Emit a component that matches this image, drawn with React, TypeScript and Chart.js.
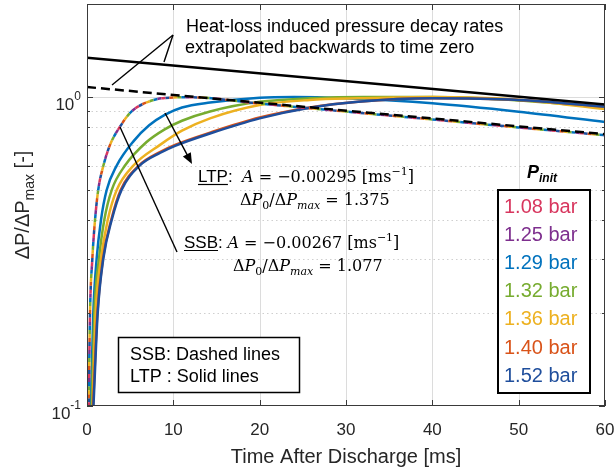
import React, { useEffect, useRef } from "react";
import { Chart, registerables } from "chart.js";

Chart.register(...registerables);

// ---------- data ----------
const legendLabels = ["1.08 bar", "1.25 bar", "1.29 bar", "1.32 bar", "1.36 bar", "1.40 bar", "1.52 bar"];
const seriesColors = ["#D8365E", "#7E2F8E", "#0072BD", "#77AC30", "#EDB120", "#D95319", "#1F4E9C"];
const xTicks = [0, 10, 20, 30, 40, 50, 60];
const yMajorTicks = [0.1, 1];
const yMinorTicks = [0.2, 0.3, 0.4, 0.5, 0.6, 0.7, 0.8, 0.9, 2];

// extrapolated heat-loss decay fits
const fitTime = [0, 60];
const ltpFit = [1.34, 0.945];
const ssbFit = [1.077, 0.758];

// SSB (dashed, all pressures nearly identical)
const ssbTime = [0.2, 0.35, 0.62, 0.93, 1.3, 1.9, 2.67, 3.8, 5.2, 7.1, 9, 12, 20, 30, 40, 50, 60];
const ssbRatio = [0.1, 0.2, 0.3, 0.4, 0.5, 0.6, 0.7, 0.8, 0.9, 0.965, 0.993, 0.998, 0.952, 0.897, 0.846, 0.797, 0.752];

// LTP (solid)
const ltpTime129 = [0.45, 0.73, 1.12, 1.62, 2.28, 3.44, 5.4, 7.2, 9, 11, 14.25, 20, 24, 30, 40, 50, 60];
const ltpRatio129 = [0.1, 0.2, 0.3, 0.4, 0.5, 0.6, 0.72, 0.81, 0.875, 0.925, 0.96, 0.995, 1.0, 0.99, 0.954, 0.896, 0.83];
const ltpTime132 = [0.55, 0.85, 1.39, 2.0, 2.86, 4.4, 6.9, 9, 11, 14.25, 20, 25.8, 32, 40, 50, 60];
const ltpRatio132 = [0.1, 0.2, 0.3, 0.4, 0.5, 0.6, 0.715, 0.786, 0.838, 0.898, 0.965, 0.99, 1.0, 1.0, 0.975, 0.925];
const ltpTime136 = [0.65, 1.0, 1.62, 2.4, 3.44, 5.37, 8.46, 11, 14.25, 20, 25.8, 31.4, 40, 50, 60];
const ltpRatio136 = [0.1, 0.2, 0.3, 0.4, 0.5, 0.6, 0.7, 0.778, 0.853, 0.942, 0.978, 0.99, 1.0, 0.98, 0.914];
const ltpTime140 = [0.7, 1.2, 1.85, 2.8, 3.9, 6.0, 8.5, 10.2, 14.25, 20, 25.8, 31.4, 40, 50, 60];
const ltpRatio140 = [0.1, 0.2, 0.3, 0.4, 0.5, 0.6, 0.665, 0.7, 0.767, 0.858, 0.925, 0.965, 0.99, 0.978, 0.93];
const ltpTime152 = [0.75, 1.24, 1.89, 2.86, 4.0, 6.1, 8.5, 10.2, 14.25, 20, 25.8, 31.4, 40, 50, 60];
const ltpRatio152 = [0.1, 0.2, 0.3, 0.4, 0.5, 0.6, 0.66, 0.695, 0.762, 0.853, 0.923, 0.965, 0.99, 0.978, 0.93];

const SANS = "'Liberation Sans', Arial, sans-serif";
const SERIF = "'DejaVu Serif', 'Liberation Serif', serif";

const pts = (t: number[], v: number[]) => t.map((x, i) => ({ x, y: v[i] }));

type Seg = { t: string; f: string; dy?: number; u?: boolean };

function drawRich(ctx: CanvasRenderingContext2D, x: number, y: number, segs: Seg[], color = "#000") {
  let cx = x;
  ctx.fillStyle = color;
  ctx.textBaseline = "alphabetic";
  ctx.textAlign = "left";
  for (const s of segs) {
    ctx.font = s.f;
    ctx.fillText(s.t, cx, y + (s.dy || 0));
    const w = ctx.measureText(s.t).width;
    if (s.u) {
      ctx.save();
      ctx.strokeStyle = color;
      ctx.lineWidth = 1.2;
      ctx.beginPath();
      ctx.moveTo(cx, y + 2.5);
      ctx.lineTo(cx + w, y + 2.5);
      ctx.stroke();
      ctx.restore();
    }
    cx += w;
  }
  return cx - x;
}

function richWidth(ctx: CanvasRenderingContext2D, segs: Seg[]) {
  let w = 0;
  for (const s of segs) {
    ctx.font = s.f;
    w += ctx.measureText(s.t).width;
  }
  return w;
}

function seg(ctx: CanvasRenderingContext2D, x1: number, y1: number, x2: number, y2: number) {
  ctx.beginPath();
  ctx.moveTo(x1, y1);
  ctx.lineTo(x2, y2);
  ctx.stroke();
}

const decorPlugin = {
  id: "decor",
  beforeDatasetsDraw(chart: any) {
    const { ctx, chartArea: a, scales } = chart;
    const xs = scales.x, ys = scales.y;
    ctx.save();
    ctx.lineWidth = 1;
    ctx.strokeStyle = "#dcdcdc";
    for (const t of xTicks.slice(1, -1)) {
      const px = Math.round(xs.getPixelForValue(t)) + 0.5;
      seg(ctx, px, a.top, px, a.bottom);
    }
    for (const v of yMajorTicks) {
      const py = Math.round(ys.getPixelForValue(v)) + 0.5;
      if (py > a.top + 1 && py < a.bottom - 1) seg(ctx, a.left, py, a.right, py);
    }
    ctx.setLineDash([1.5, 3]);
    ctx.strokeStyle = "#cfcfcf";
    for (const v of yMinorTicks) {
      const py = Math.round(ys.getPixelForValue(v)) + 0.5;
      if (py > a.top + 1 && py < a.bottom - 1) seg(ctx, a.left, py, a.right, py);
    }
    ctx.restore();
  },
  afterDatasetsDraw(chart: any) {
    const { ctx, chartArea: a, scales } = chart;
    const xs = scales.x, ys = scales.y;
    ctx.save();
    // axes box
    ctx.strokeStyle = "#3a3a3a";
    ctx.lineWidth = 1;
    ctx.strokeRect(a.left + 0.5, a.top + 0.5, a.right - a.left - 1, a.bottom - a.top - 1);
    // ticks
    for (const t of xTicks) {
      const px = Math.round(xs.getPixelForValue(t)) + 0.5;
      seg(ctx, px, a.bottom, px, a.bottom - 6);
      seg(ctx, px, a.top, px, a.top + 6);
    }
    for (const v of yMajorTicks) {
      const py = Math.round(ys.getPixelForValue(v)) + 0.5;
      seg(ctx, a.left, py, a.left + 6, py);
      seg(ctx, a.right, py, a.right - 6, py);
    }
    for (const v of yMinorTicks) {
      const py = Math.round(ys.getPixelForValue(v)) + 0.5;
      seg(ctx, a.left, py, a.left + 3, py);
      seg(ctx, a.right, py, a.right - 3, py);
    }
    // x tick labels
    ctx.fillStyle = "#262626";
    ctx.font = `17px ${SANS}`;
    ctx.textAlign = "center";
    ctx.textBaseline = "alphabetic";
    for (const t of xTicks) {
      ctx.fillText(String(t), xs.getPixelForValue(t), 435);
    }
    // y tick labels (10^n)
    for (const v of yMajorTicks) {
      const py = ys.getPixelForValue(v);
      const exp = String(Math.round(Math.log10(v)));
      const segs: Seg[] = [
        { t: "10", f: `17px ${SANS}` },
        { t: exp, f: `12px ${SANS}`, dy: -10 },
      ];
      const w = richWidth(ctx, segs);
      drawRich(ctx, 81 - w, py + 13, segs, "#262626");
    }
    // axis titles
    ctx.fillStyle = "#262626";
    ctx.font = `20px ${SANS}`;
    ctx.textAlign = "center";
    ctx.fillText("Time After Discharge [ms]", (a.left + a.right) / 2, 463);
    ctx.save();
    ctx.translate(28.5, 205);
    ctx.rotate(-Math.PI / 2);
    const ySegs: Seg[] = [
      { t: "ΔP/ΔP", f: `20px ${SANS}` },
      { t: "max", f: `14px ${SANS}`, dy: 5 },
      { t: " [-]", f: `20px ${SANS}` },
    ];
    drawRich(ctx, -richWidth(ctx, ySegs) / 2, 0, ySegs, "#262626");
    ctx.restore();

    // annotation text
    ctx.fillStyle = "#000";
    ctx.textAlign = "left";
    ctx.font = `18px ${SANS}`;
    ctx.fillText("Heat-loss induced pressure decay rates", 186, 31.5);
    ctx.fillText("extrapolated backwards to time zero", 185, 53);

    // annotation lines
    ctx.strokeStyle = "#000";
    ctx.lineWidth = 1.4;
    seg(ctx, 173, 35, 112, 85);
    seg(ctx, 173, 35, 164, 62);
    seg(ctx, 120, 127, 177, 252);
    // arrow
    const ax1 = 165, ay1 = 113, ax2 = 192, ay2 = 164;
    const ang = Math.atan2(ay2 - ay1, ax2 - ax1);
    seg(ctx, ax1, ay1, ax2 - 8 * Math.cos(ang), ay2 - 8 * Math.sin(ang));
    ctx.fillStyle = "#000";
    ctx.beginPath();
    ctx.moveTo(ax2, ay2);
    ctx.lineTo(ax2 - 11 * Math.cos(ang) + 4.5 * Math.sin(ang), ay2 - 11 * Math.sin(ang) - 4.5 * Math.cos(ang));
    ctx.lineTo(ax2 - 11 * Math.cos(ang) - 4.5 * Math.sin(ang), ay2 - 11 * Math.sin(ang) + 4.5 * Math.cos(ang));
    ctx.closePath();
    ctx.fill();

    // formulas
    const sf = `17px ${SANS}`;
    const mi = `italic 16px ${SERIF}`;
    const mr = `16px ${SERIF}`;
    const ms = `11px ${SERIF}`;
    const msi = `italic 11px ${SERIF}`;
    drawRich(ctx, 198, 182, [
      { t: "LTP", f: sf, u: true },
      { t: ":  ", f: sf },
      { t: "A", f: mi },
      { t: " = −0.00295 [ms", f: mr },
      { t: "−1", f: ms, dy: -7 },
      { t: "]", f: mr },
    ]);
    drawRich(ctx, 240, 205, [
      { t: "Δ", f: mr },
      { t: "P", f: mi },
      { t: "0", f: ms, dy: 4 },
      { t: "/Δ", f: mr },
      { t: "P", f: mi },
      { t: "max", f: msi, dy: 4 },
      { t: " = 1.375", f: mr },
    ]);
    drawRich(ctx, 184, 248, [
      { t: "SSB", f: sf, u: true },
      { t: ": ", f: sf },
      { t: "A", f: mi },
      { t: " = −0.00267 [ms", f: mr },
      { t: "−1", f: ms, dy: -7 },
      { t: "]", f: mr },
    ]);
    drawRich(ctx, 233, 271, [
      { t: "Δ", f: mr },
      { t: "P", f: mi },
      { t: "0", f: ms, dy: 4 },
      { t: "/Δ", f: mr },
      { t: "P", f: mi },
      { t: "max", f: msi, dy: 4 },
      { t: " = 1.077", f: mr },
    ]);

    // line-style box
    ctx.fillStyle = "#fff";
    ctx.fillRect(118, 337, 182, 56);
    ctx.strokeStyle = "#000";
    ctx.lineWidth = 1.5;
    ctx.strokeRect(118.5, 337.5, 181, 55);
    ctx.fillStyle = "#000";
    ctx.font = `18px ${SANS}`;
    ctx.fillText("SSB: Dashed lines", 130, 360);
    ctx.fillText("LTP : Solid lines", 130, 382);

    // pressure legend
    drawRich(ctx, 527, 178, [
      { t: "P", f: `italic bold 18px ${SANS}` },
      { t: "init", f: `italic bold 12px ${SANS}`, dy: 4 },
    ]);
    ctx.fillStyle = "#fff";
    ctx.fillRect(498, 190, 92, 203);
    ctx.strokeStyle = "#000";
    ctx.lineWidth = 2;
    ctx.strokeRect(498, 190, 92, 203);
    ctx.font = `20px ${SANS}`;
    legendLabels.forEach((lab, i) => {
      ctx.fillStyle = seriesColors[i];
      ctx.fillText(lab, 504, 213 + i * 28.1);
    });
    ctx.restore();
  },
};

export default function App() {
  const ref = useRef<HTMLCanvasElement>(null);
  useEffect(() => {
    document.body.style.margin = "0";
    const canvas = ref.current!;
    const ssbSets = seriesColors.map((c, i) => ({
      data: pts(ssbTime, ssbRatio),
      borderColor: c,
      borderWidth: 2.5,
      borderDash: [4, 24],
      borderDashOffset: i * 4,
      pointRadius: 0,
      cubicInterpolationMode: "monotone" as const,
    }));
    const solid = (t: number[], v: number[], c: string) => ({
      data: pts(t, v),
      borderColor: c,
      borderWidth: 2.5,
      pointRadius: 0,
      cubicInterpolationMode: "monotone" as const,
    });
    const chart = new Chart(canvas, {
      type: "line",
      data: {
        datasets: [
          {
            data: pts(fitTime, ssbFit),
            borderColor: "#000",
            borderWidth: 2.5,
            borderDash: [9, 5],
            pointRadius: 0,
          },
          {
            data: pts(fitTime, ltpFit),
            borderColor: "#000",
            borderWidth: 2.5,
            pointRadius: 0,
          },
          ...ssbSets,
          solid(ltpTime152, ltpRatio152, seriesColors[6]),
          solid(ltpTime140, ltpRatio140, seriesColors[5]),
          solid(ltpTime136, ltpRatio136, seriesColors[4]),
          solid(ltpTime132, ltpRatio132, seriesColors[3]),
          solid(ltpTime129, ltpRatio129, seriesColors[2]),
        ] as any,
      },
      options: {
        responsive: false,
        animation: false,
        layout: { padding: { left: 87, right: 11, top: 4, bottom: 66 } },
        scales: {
          x: { type: "linear", min: 0, max: 60, display: false },
          y: { type: "logarithmic", min: 0.1, max: 2, display: false },
        },
        plugins: { legend: { display: false }, tooltip: { enabled: false } },
        events: [],
      },
      plugins: [decorPlugin],
    });
    return () => chart.destroy();
  }, []);
  return (
    <div style={{ position: "absolute", left: 0, top: 0, width: 616, height: 472, background: "#fff" }}>
      <canvas ref={ref} width={616} height={472} style={{ width: 616, height: 472 }} />
    </div>
  );
}
